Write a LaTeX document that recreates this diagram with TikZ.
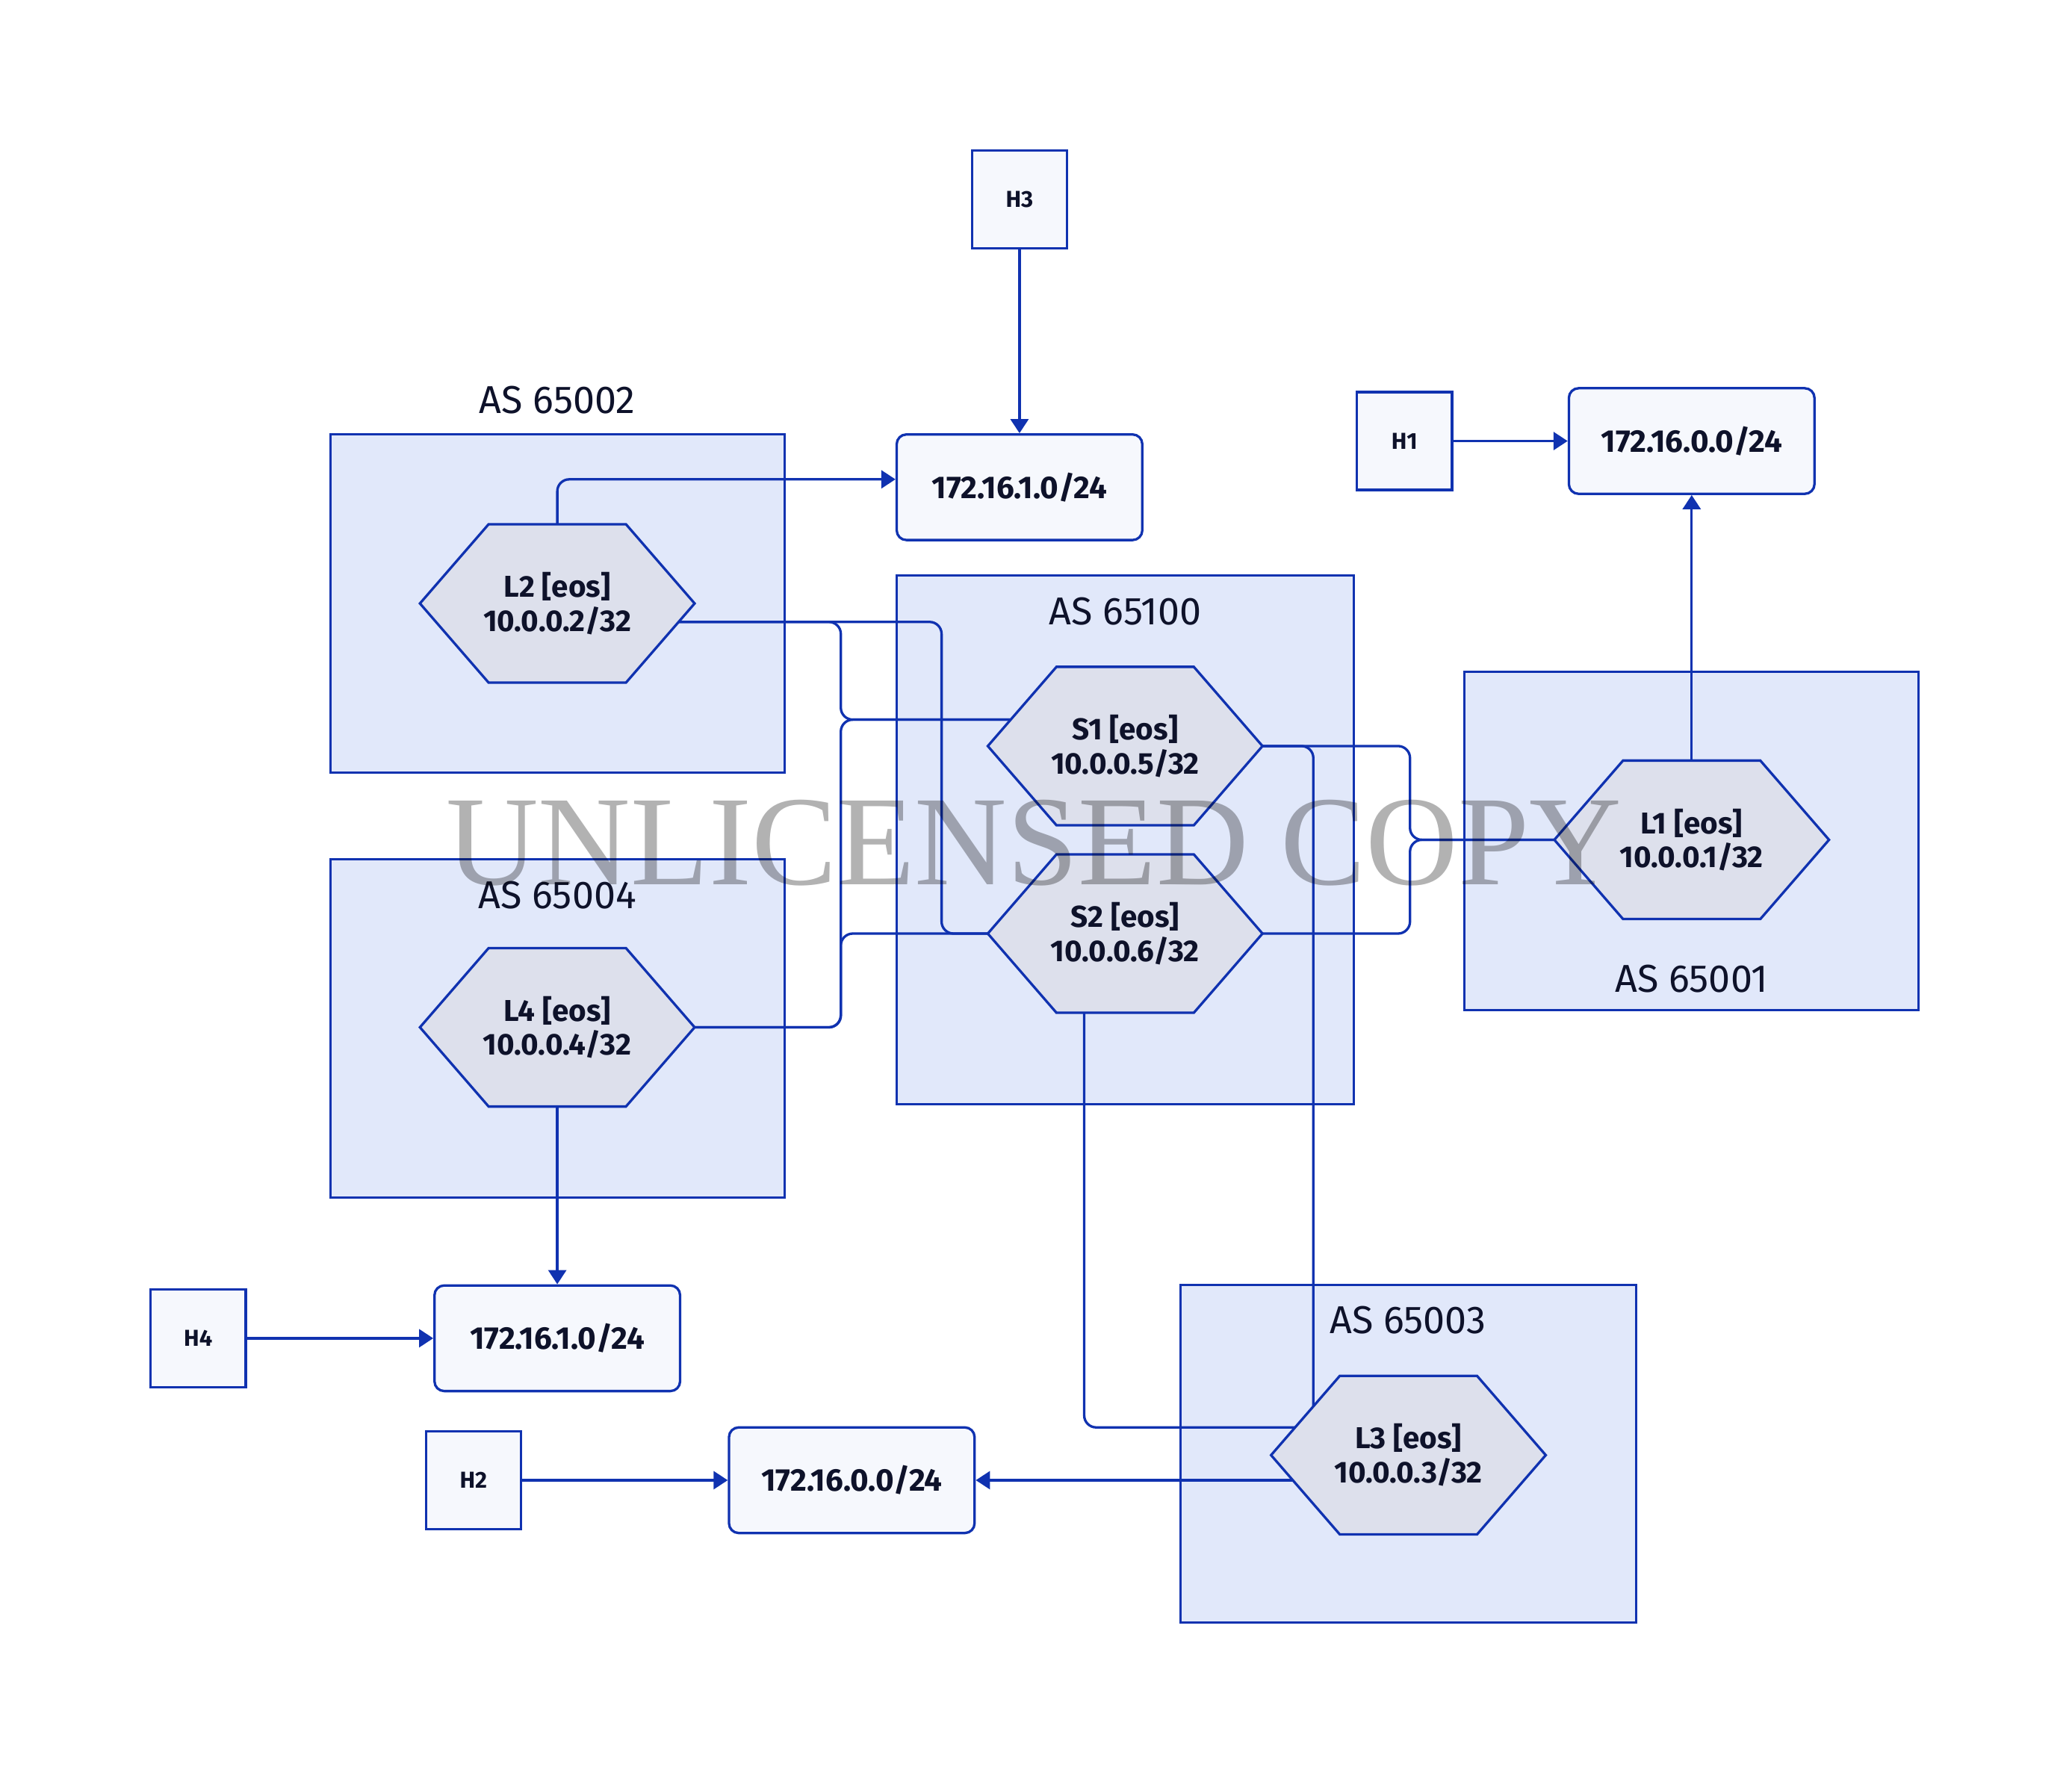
\documentclass[tikz,border=0pt]{standalone}
\usepackage{fontspec}
\setmainfont{Fira Sans}
\newfontfamily\wmfont{Liberation Serif}
\usepackage{graphicx}
\usetikzlibrary{arrows.meta,calc}

\definecolor{netblue}{RGB}{16,50,176}
\definecolor{asfill}{RGB}{225,232,250}
\definecolor{hostfill}{RGB}{246,248,253}
\definecolor{hexfill}{RGB}{221,224,236}
\definecolor{inkdark}{RGB}{14,18,42}

\tikzset{
  asbox/.style={draw=netblue, fill=asfill, line width=0.3mm},
  aslabel/.style={text=inkdark, inner sep=0pt, font=\fontsize{14.8pt}{17pt}\selectfont},
  hostbox/.style={draw=netblue, fill=hostfill, line width=0.33mm, inner sep=0pt,
    minimum width=12.73mm, minimum height=13.08mm, text=inkdark,
    font=\fontsize{8.8pt}{10pt}\selectfont\bfseries},
  netbox/.style={draw=netblue, fill=hostfill, line width=0.33mm, rounded corners=1.3mm,
    inner sep=0pt, minimum width=32.88mm, minimum height=14.14mm, text=inkdark,
    font=\fontsize{12pt}{14pt}\selectfont\bfseries},
  hexshape/.style={draw=netblue, fill=hexfill, line width=0.33mm},
  devtext/.style={inner sep=0pt, minimum width=36.77mm, minimum height=21.2mm,
    align=center, text=inkdark, font=\fontsize{11.5pt}{13pt}\selectfont\bfseries},
  wire/.style={draw=netblue, line width=0.33mm, rounded corners=1.6mm},
  headarrow/.style={-{Triangle[length=1.9mm,width=2.4mm]}},
  wmark/.style={text=black, text opacity=0.3, inner sep=0pt},
}

% 六边形设备
\newcommand{\hexdev}[4]{%
  \filldraw[hexshape] (#2-104,#3) -- (#2-52,#3-60) -- (#2+52,#3-60) -- (#2+104,#3)
    -- (#2+52,#3+60) -- (#2-52,#3+60) -- cycle;
  \node[devtext] (#1) at (#2,#3) {#4};}

\begin{document}
\begin{tikzpicture}[x=0.1768mm, y=-0.1768mm]
\fill[white] (0,0) rectangle (1569,1345);
\useasboundingbox (0,0) rectangle (1569,1345);

% AS
\foreach \a/\b/\c/\d in {250/329/594/585, 679/436/1025/836, 1109/509/1453/765,
                         250/651/594/907, 894/973/1239/1229}
  \draw[asbox] (\a,\b) rectangle (\c,\d);

\node[aslabel] (as65002) at (422,303) {AS 65002};
\node[aslabel] (as65100) at (852,463) {AS 65100};
\node[aslabel] (as65001) at (1281,741) {AS 65001};
\node[aslabel] (as65004) at (422,678) {AS 65004};
\node[aslabel] (as65003) at (1066,1000) {AS 65003};

\foreach \n/\x/\y/\ip in {L2/422/457/2, S1/852/565/5, S2/852/707/6,
                          L1/1281/636/1, L4/422/778/4, L3/1066.5/1102/3}
  \hexdev{\n}{\x}{\y}{\n{} [eos]\\10.0.0.\ip/32};

\foreach \n/\x/\y in {H3/772/151, H1/1063.5/334, H4/150/1013.5, H2/358.5/1121}
  \node[hostbox] (\n) at (\x,\y) {\n};

\node[netbox] (N1a) at (772,369) {172.16.1.0/24};
\node[netbox] (N0a) at (1281,334) {172.16.0.0/24};
\node[netbox] (N1b) at (422,1013.5) {172.16.1.0/24};
\node[netbox] (N0b) at (645,1121) {172.16.0.0/24};

\coordinate (L2e) at ($(L2.center)+(92,14)$);
\coordinate (S1w) at ($(S1.center)+(-87,-20)$);
\coordinate (S2b) at ($(S2.south)+(-31,0)$);
\coordinate (L3n) at ($(L3.center)+(-72,-37)$);
\coordinate (L3w) at ($(L3.center)+(-86,-21)$);
\coordinate (L3s) at ($(L3.center)+(-87.5,19)$);

% 连线
\draw[wire] (L2e) -| (636.7,545) -- (S1w);
\draw[wire] (L2e) -| (713,707) -- (S2.west);
\draw[wire] (L4.east) -| (636.7,545) -- (S1w);
\draw[wire] (L4.east) -| (636.7,707) -- (S2.west);
\draw[wire] (S1.east) -| (1067.7,636) -- (L1.west);
\draw[wire] (S2.east) -| (1067.7,636) -- (L1.west);
\draw[wire] (S1.east) -| (L3n);
\draw[wire] (S2b) |- (L3w);

\draw[wire,headarrow] (H3) -- (N1a);
\draw[wire,headarrow] (L2.north) |- ([yshift=1.06mm]N1a.west);
\draw[wire,headarrow] (H1) -- (N0a);
\draw[wire,headarrow] (L1.north) -- (N0a.south);
\draw[wire,headarrow] (L4.south) -- (N1b.north);
\draw[wire,headarrow] (H4) -- (N1b);
\draw[wire,headarrow] (H2) -- (N0b);
\draw[wire,headarrow] (L3s) -- (N0b.east);

\node[wmark] (wm) at (783,638.5) {\resizebox{157.4mm}{!}{\wmfont UNLICENSED COPY}};
\end{tikzpicture}
\end{document}
